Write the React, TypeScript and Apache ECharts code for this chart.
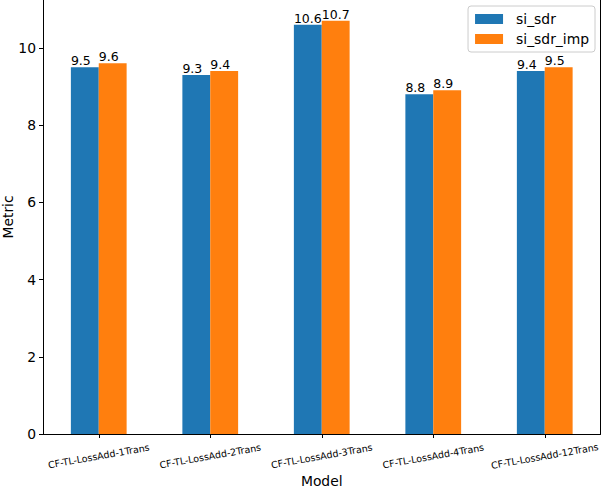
import React, { useEffect, useRef } from "react";
import * as echarts from "echarts";

const categories = [
  "CF-TL-LossAdd-1Trans",
  "CF-TL-LossAdd-2Trans",
  "CF-TL-LossAdd-3Trans",
  "CF-TL-LossAdd-4Trans",
  "CF-TL-LossAdd-12Trans",
];
const siSdr = [9.5, 9.3, 10.6, 8.8, 9.4];
const siSdrImp = [9.6, 9.4, 10.7, 8.9, 9.5];
const yTicksInterval = 2;
const yMax = 11.24;

const FONT = "DejaVu Sans";

export default function App() {
  const ref = useRef<HTMLDivElement>(null);
  useEffect(() => {
    document.body.style.margin = "0";
    const chart = echarts.init(ref.current!, null, { renderer: "svg" });
    const label = {
      show: true,
      position: [0, 0],
      align: "left",
      verticalAlign: "bottom",
      fontFamily: FONT,
      fontSize: 12.5,
      color: "#000",
      formatter: (p: any) => Number(p.value).toFixed(1),
    };
    const yCommon = {
      type: "value",
      min: 0,
      max: yMax,
      interval: yTicksInterval,
      splitLine: { show: false },
    };
    chart.setOption({
      animation: false,
      grid: {
        left: 43,
        right: 1.5,
        top: 0,
        bottom: 55,
        containLabel: false,
        outerBoundsMode: "none",
      },
      legend: {
        orient: "vertical",
        right: 7,
        top: 6,
        itemWidth: 28,
        itemHeight: 10,
        itemGap: 6,
        padding: [6, 6, 6, 7],
        borderColor: "#cccccc",
        borderWidth: 1,
        borderRadius: 3,
        icon: "rect",
        textStyle: {
          fontFamily: FONT,
          fontSize: 13.9,
          color: "#000",
          padding: [0, 0, 0, 8],
        },
        data: ["si_sdr", "si_sdr_imp"],
      },
      xAxis: {
        type: "category",
        data: categories,
        name: "Model",
        nameLocation: "middle",
        nameGap: 40,
        nameMoveOverlap: false,
        nameTextStyle: { fontFamily: FONT, fontSize: 13.9, color: "#000" },
        axisLine: { show: true, lineStyle: { color: "#000", width: 1 } },
        axisTick: { show: true, alignWithLabel: true, length: 4, lineStyle: { color: "#000" } },
        axisLabel: {
          rotate: 10,
          align: "center",
          verticalAlign: "middle",
          margin: 22,
          fontFamily: FONT,
          fontSize: 9.5,
          color: "#000",
          interval: 0,
        },
      },
      yAxis: [
        {
          ...yCommon,
          position: "left",
          name: "Metric",
          nameLocation: "middle",
          nameRotate: 90,
          nameGap: 28,
          nameMoveOverlap: false,
          nameTextStyle: { fontFamily: FONT, fontSize: 13.9, color: "#000" },
          axisLine: { show: true, lineStyle: { color: "#000", width: 1 } },
          axisTick: { show: true, length: 4, lineStyle: { color: "#000" } },
          axisLabel: {
            fontFamily: FONT,
            fontSize: 13.9,
            color: "#000",
            margin: 7,
            showMaxLabel: false,
          },
        },
        {
          ...yCommon,
          position: "right",
          axisLine: { show: true, lineStyle: { color: "#000", width: 1 } },
          axisTick: { show: false },
          axisLabel: { show: false },
        },
      ],
      series: [
        {
          name: "si_sdr",
          type: "bar",
          data: siSdr,
          barGap: "0%",
          barCategoryGap: "50%",
          itemStyle: { color: "#1f77b4" },
          label,
        },
        {
          name: "si_sdr_imp",
          type: "bar",
          data: siSdrImp,
          barGap: "0%",
          barCategoryGap: "50%",
          itemStyle: { color: "#ff7f0e" },
          label,
        },
      ],
    });
    return () => chart.dispose();
  }, []);
  return <div ref={ref} style={{ width: 602, height: 489 }} />;
}
